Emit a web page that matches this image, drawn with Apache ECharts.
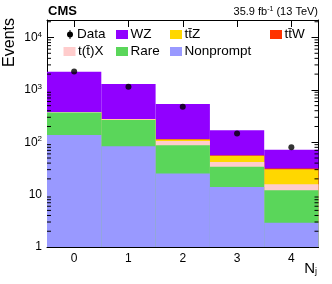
<!DOCTYPE html>
<html><head><meta charset="utf-8">
<script src="https://cdn.jsdelivr.net/npm/echarts@6/dist/echarts.min.js"></script>
<style>html,body{margin:0;padding:0;background:#fff}#c{width:332px;height:284px}</style>
</head><body><div id="c"></div>
<script>
const categories = ['0','1','2','3','4'];
const nonprompt = [137, 84, 25.3, 14.0, 2.9];
const rare      = [234, 181, 62.7, 19.9, 9.2];
const ttX       = [6, 10, 18, 8.3, 3.7];
const ttZ       = [2, 3, 7, 12.8, 14.8];
const ttW       = [0.5, 0.6, 0.8, 0.9, 1.0];
const wz        = [1838, 1012, 421, 114, 40];
const dataObs   = [2250, 1146, 475, 147, 80];
const yTickValues = [1, 10, 100, 1000, 10000];
const minorTickValues = [2,3,4,5,6,7,8,9,20,30,40,50,60,70,80,90,200,300,400,500,600,700,800,900,2000,3000,4000,5000,6000,7000,8000,9000,20000];

const FONT = 'Liberation Sans';
const stackOrder = [
  {name:'Nonprompt', arr:nonprompt, color:'#9999ff'},
  {name:'Rare', arr:rare, color:'#5ad65a'},
  {name:'t(t̄)X', arr:ttX, color:'#ffcccc'},
  {name:'tt̄Z', arr:ttZ, color:'#ffd700'},
  {name:'tt̄W', arr:ttW, color:'#ff3300'},
  {name:'WZ', arr:wz, color:'#9100ff'}
];
// cumulative sums
const cum = [];
let run = categories.map(()=>0);
stackOrder.forEach(s=>{ run = run.map((v,i)=>v+s.arr[i]); cum.push(run.slice()); });

const barSeries = [];
for (let k = stackOrder.length-1; k >= 0; k--) {
  barSeries.push({
    type:'bar', name:stackOrder[k].name, data:cum[k], barWidth:'100%', barGap:'-100%',
    itemStyle:{color:stackOrder[k].color}, silent:true, animation:false
  });
}

function isPow10(v){ const l=Math.log10(v); return Math.abs(l-Math.round(l))<1e-6; }
const ylab = v => {
  if(!isPow10(v)) return '';
  const e = Math.round(Math.log10(v));
  if (e===0) return '1';
  if (e===1) return '10';
  return '10{sup|'+e+'}';
};

const chart = echarts.init(document.getElementById('c'), null, {renderer:'canvas'});
const axisCommonY = {
  type:'log', logBase:10, min:1, max:21600,
  axisLine:{show:true, lineStyle:{color:'#000', width:1}},
  axisTick:{show:true, inside:true, length:7, lineStyle:{color:'#000'}},
  splitLine:{show:false}
};
const minorSeries = [0,1].map(side=>({
  type:'custom', yAxisIndex:0, xAxisIndex:0, silent:true, animation:false, z:10,
  data: minorTickValues.map(v=>[0,v]),
  renderItem:(params, api)=>{
    const p = api.coord([0, api.value(1)]);
    const cs = params.coordSys;
    const x0 = side===0 ? cs.x : cs.x+cs.width;
    const x1 = side===0 ? cs.x+4 : cs.x+cs.width-4;
    return {type:'line', shape:{x1:x0,y1:p[1],x2:x1,y2:p[1]}, style:{stroke:'#000', lineWidth:1}};
  }
}));

const legendItems = [
  {t:'WZ', c:'#9100ff', x:116, y:34.5},
  {t:'tt̄Z', c:'#ffd700', x:170, y:34.5},
  {t:'tt̄W', c:'#ff3300', x:270, y:34.5},
  {t:'t(t̄)X', c:'#ffcccc', x:63.5, y:51.5},
  {t:'Rare', c:'#5ad65a', x:116, y:51.5},
  {t:'Nonprompt', c:'#9999ff', x:170, y:51.5}
];
const graphics = [];
legendItems.forEach(it=>{
  graphics.push({type:'rect', shape:{x:it.x, y:it.y-4.5, width:12, height:9}, style:{fill:it.c}, z:100});
  graphics.push({type:'text', x:it.x+14.5, y:it.y, style:{text:it.t, font:'13.5px "'+FONT+'"', fill:'#000', textVerticalAlign:'middle', verticalAlign:'middle'}, z:100});
});
graphics.push({type:'line', shape:{x1:70,y1:30,x2:70,y2:39}, style:{stroke:'#000', lineWidth:1}, z:100});
graphics.push({type:'circle', shape:{cx:70,cy:34.5,r:3}, style:{fill:'#000'}, z:100});
graphics.push({type:'text', x:77, y:34.5, style:{text:'Data', font:'13.5px "'+FONT+'"', fill:'#000', verticalAlign:'middle'}, z:100});
graphics.push({type:'text', x:48, y:11, style:{text:'CMS', font:'bold 13px "'+FONT+'"', fill:'#000', verticalAlign:'middle'}, z:100});
graphics.push({type:'text', x:318, y:12, style:{text:'35.9 fb{sup|-1} (13 TeV)', align:'right', verticalAlign:'middle', fill:'#000', font:'11px "'+FONT+'"',
  rich:{sup:{fontSize:7, fontFamily:FONT, padding:[0,0,5,0]}}}, z:100});
graphics.push({type:'text', x:2, y:18, rotation:Math.PI/2, style:{text:'Events', font:'16px "'+FONT+'"', fill:'#000', align:'right', verticalAlign:'top'}, z:100});
graphics.push({type:'text', x:317, y:261, style:{text:'N{sub|j}', align:'right', verticalAlign:'top', fill:'#000', font:'15px "'+FONT+'"',
  rich:{sub:{fontSize:9, fontFamily:FONT, padding:[6,0,0,0]}}}, z:100});

chart.setOption({
  animation:false,
  backgroundColor:'#fff',
  grid:{left:47, right:13.5, top:20, bottom:37, show:false},
  xAxis:[
    {type:'category', data:categories, boundaryGap:true, position:'bottom',
     axisLine:{show:true, lineStyle:{color:'#000'}},
     axisTick:{show:true, inside:true, alignWithLabel:true, length:7, lineStyle:{color:'#000'}},
     axisLabel:{color:'#000', fontFamily:FONT, fontSize:12, margin:6}, splitLine:{show:false}},
    {type:'category', data:categories, boundaryGap:true, position:'top',
     axisLine:{show:true, lineStyle:{color:'#000'}},
     axisTick:{show:true, inside:true, alignWithLabel:true, length:7, lineStyle:{color:'#000'}},
     axisLabel:{show:false}, splitLine:{show:false}}
  ],
  yAxis:[
    Object.assign({}, axisCommonY, {position:'left',
      axisLabel:{show:true, color:'#000', fontFamily:FONT, fontSize:12, margin:5, formatter:ylab, showMaxLabel:false,
        rich:{sup:{fontSize:8, fontFamily:FONT, color:'#000', padding:[0,0,6,0]}}}}),
    Object.assign({}, axisCommonY, {position:'right', axisLabel:{show:false}})
  ],
  series: barSeries.concat(minorSeries).concat([
    {type:'scatter', data:dataObs, symbol:'circle', symbolSize:6, itemStyle:{color:'#000'}, z:20, silent:true, animation:false}
  ]),
  graphic: graphics
});
</script></body></html>
